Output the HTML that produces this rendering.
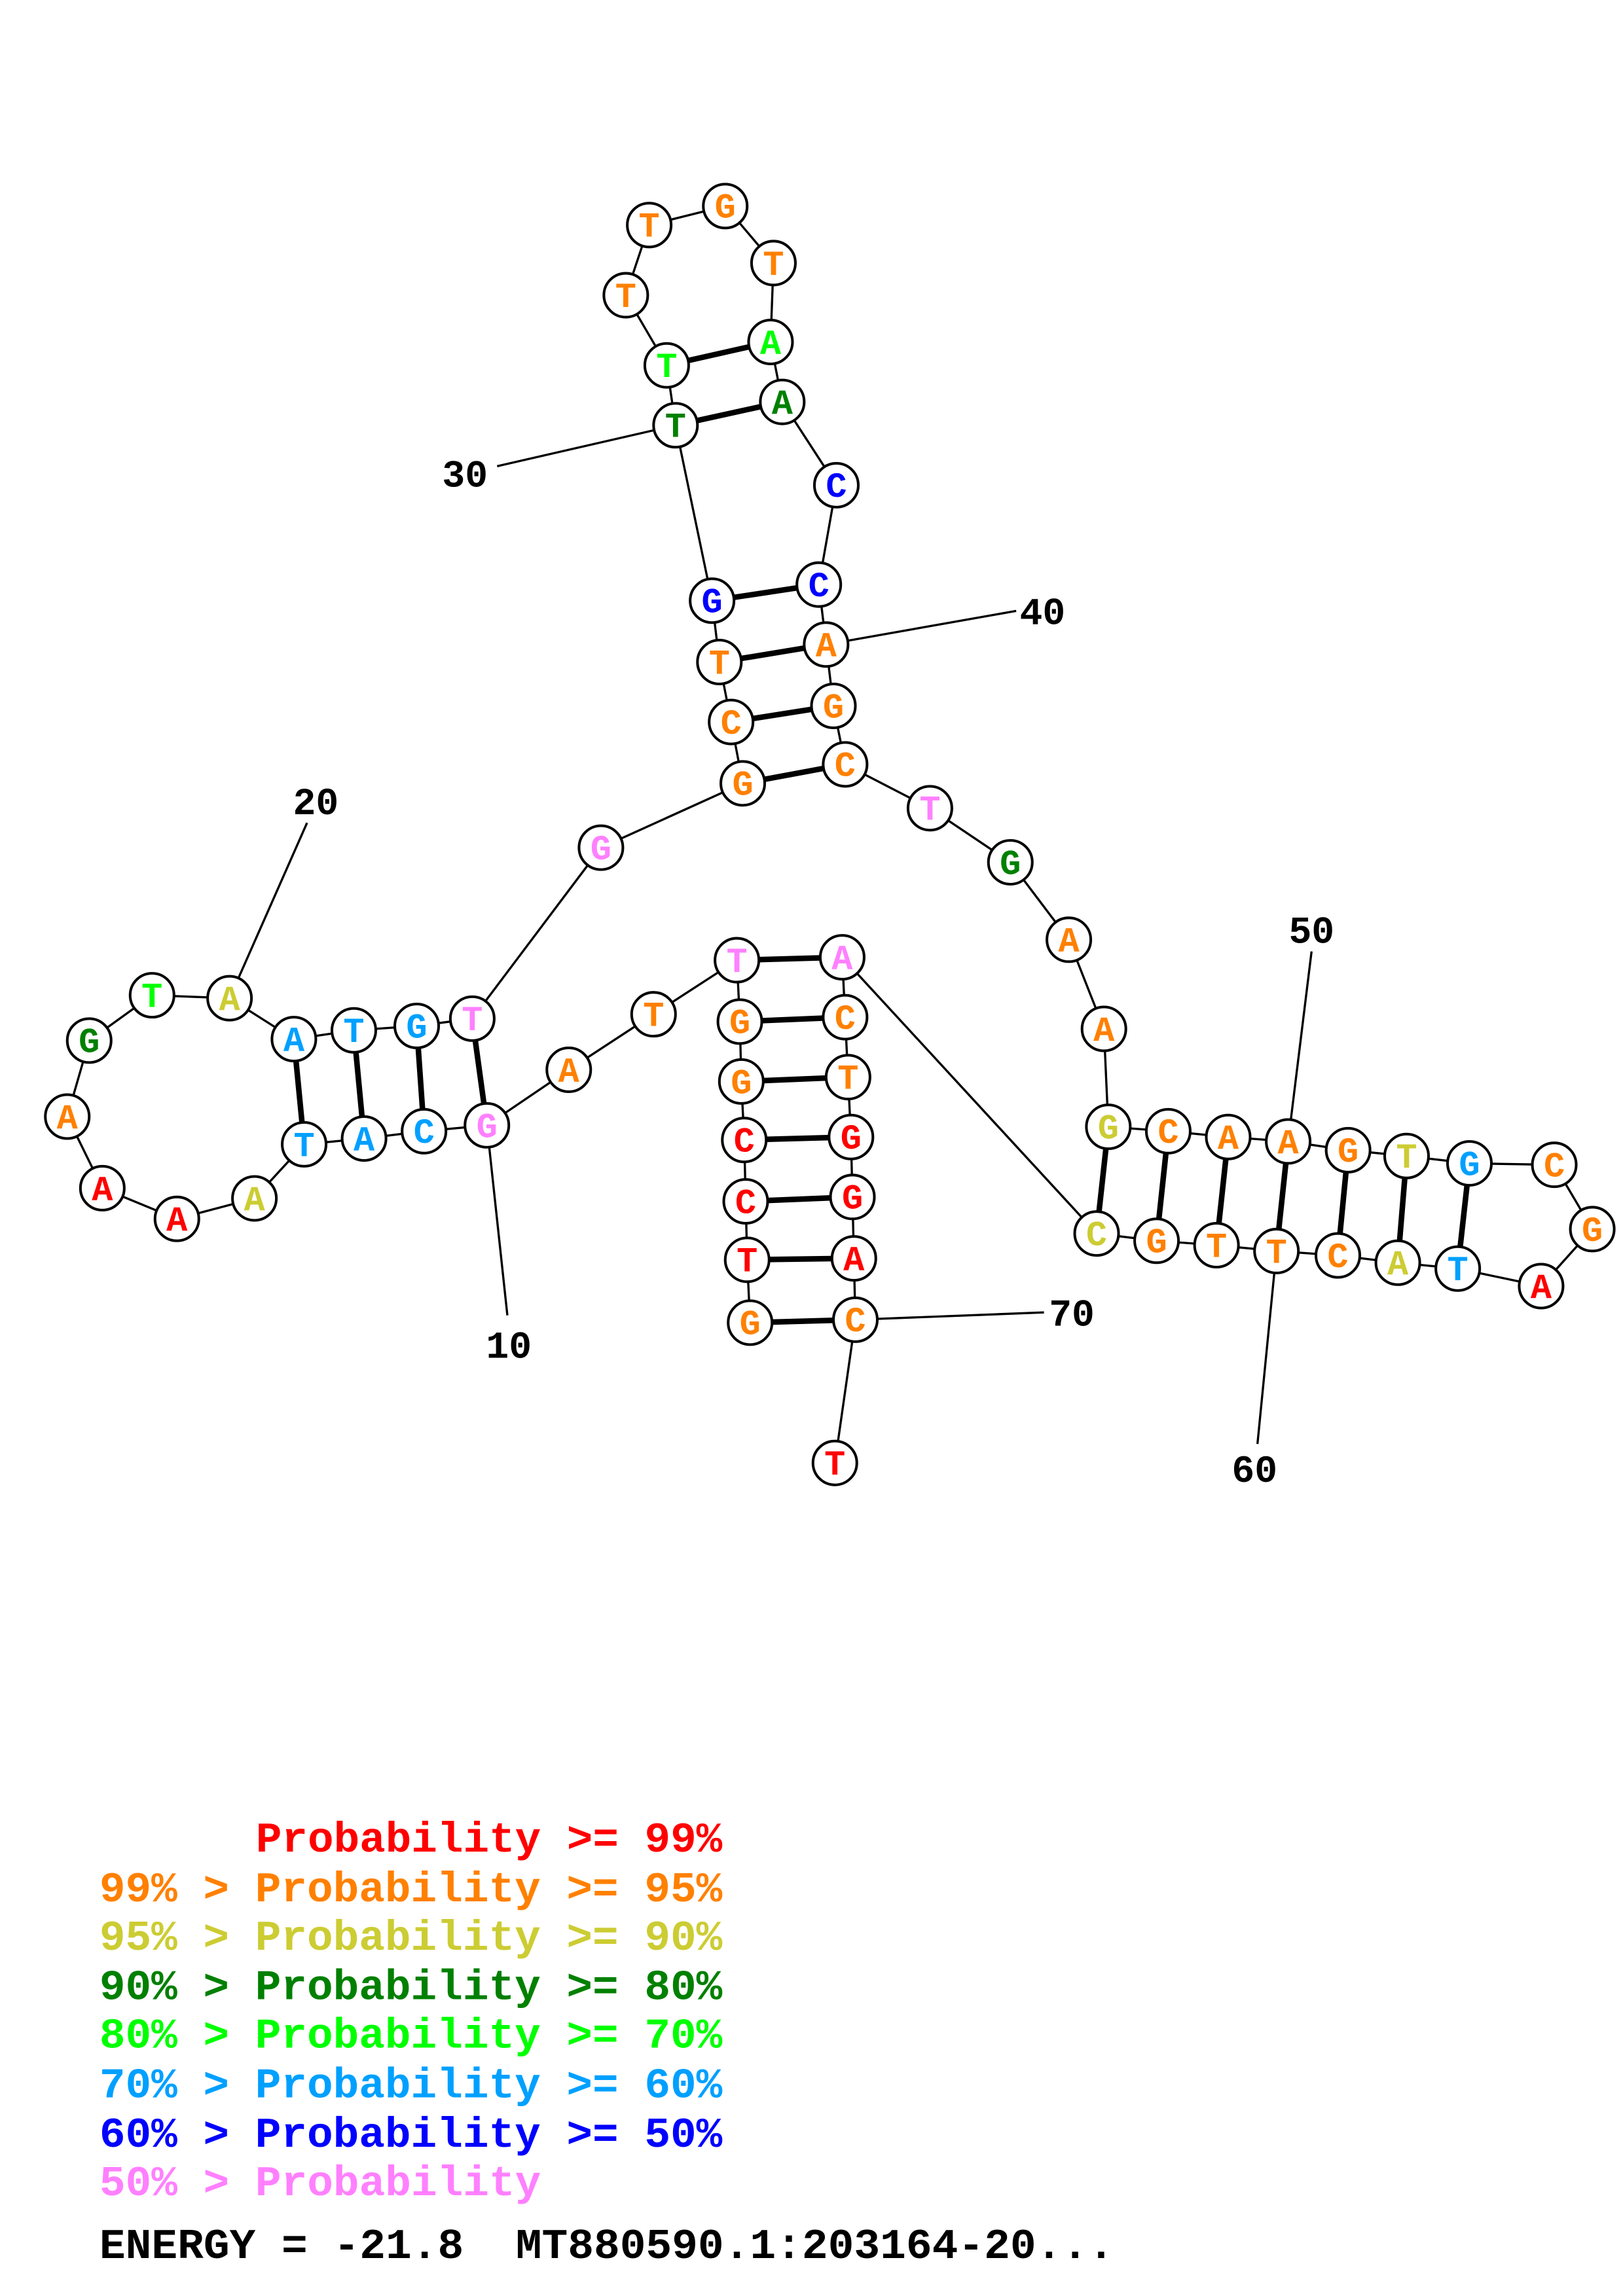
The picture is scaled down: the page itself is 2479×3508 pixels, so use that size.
<!DOCTYPE html>
<html><head><meta charset="utf-8"><style>html,body{margin:0;padding:0;background:#fff}svg{display:block}</style></head><body>
<svg width="2479" height="3508" viewBox="0 0 1110 1571" preserveAspectRatio="none" xmlns="http://www.w3.org/2000/svg">
<g stroke="#000" stroke-width="1.5" fill="none">
<polyline points="513,905 511,862 510,822 509,780 507,740 506,699 504,657 447,694 389,732 333,770 290,774 249,779 208,783 174,820 121,834 70,813 46,764 61,712 104,681 157,683 201,711 242,705 285,702 323,697 411,580 508,536 500,494 492,453 487,411 462,291 456,250 428,202 444,154 496,141 529,180 527,234 535,275 572,332 560,400 565,441 570,483 578,523 636,553 691,590 731,643 755,704 758,771 799,774 840,778 881,781 922,787 962,791 1005,796 1063,797 1089,841 1054,880 997,868 956,864 915,859 873,856 832,852 791,849 750,844 576,655 578,696 580,737 582,778 583,819 584,861 585,903 571,1001"/>
<line x1="333" y1="770" x2="347" y2="900"/>
<line x1="157" y1="683" x2="210" y2="563"/>
<line x1="462" y1="291" x2="340" y2="319"/>
<line x1="565" y1="441" x2="695" y2="418"/>
<line x1="881" y1="781" x2="897" y2="651"/>
<line x1="873" y1="856" x2="860" y2="988"/>
<line x1="585" y1="903" x2="714" y2="898"/>
</g>
<g stroke="#000" stroke-width="3.8">
<line x1="513" y1="905" x2="585" y2="903"/><line x1="511" y1="862" x2="584" y2="861"/><line x1="510" y1="822" x2="583" y2="819"/><line x1="509" y1="780" x2="582" y2="778"/><line x1="507" y1="740" x2="580" y2="737"/><line x1="506" y1="699" x2="578" y2="696"/><line x1="504" y1="657" x2="576" y2="655"/>
<line x1="333" y1="770" x2="323" y2="697"/><line x1="290" y1="774" x2="285" y2="702"/><line x1="249" y1="779" x2="242" y2="705"/><line x1="208" y1="783" x2="201" y2="711"/>
<line x1="508" y1="536" x2="578" y2="523"/><line x1="500" y1="494" x2="570" y2="483"/><line x1="492" y1="453" x2="565" y2="441"/><line x1="487" y1="411" x2="560" y2="400"/><line x1="462" y1="291" x2="535" y2="275"/><line x1="456" y1="250" x2="527" y2="234"/>
<line x1="758" y1="771" x2="750" y2="844"/><line x1="799" y1="774" x2="791" y2="849"/><line x1="840" y1="778" x2="832" y2="852"/><line x1="881" y1="781" x2="873" y2="856"/><line x1="922" y1="787" x2="915" y2="859"/><line x1="962" y1="791" x2="956" y2="864"/><line x1="1005" y1="796" x2="997" y2="868"/>
</g>
<g fill="#fff" stroke="#000" stroke-width="1.8">
<circle cx="513" cy="905" r="15"/><circle cx="511" cy="862" r="15"/><circle cx="510" cy="822" r="15"/><circle cx="509" cy="780" r="15"/><circle cx="507" cy="740" r="15"/><circle cx="506" cy="699" r="15"/><circle cx="504" cy="657" r="15"/><circle cx="447" cy="694" r="15"/><circle cx="389" cy="732" r="15"/><circle cx="333" cy="770" r="15"/><circle cx="290" cy="774" r="15"/><circle cx="249" cy="779" r="15"/><circle cx="208" cy="783" r="15"/><circle cx="174" cy="820" r="15"/><circle cx="121" cy="834" r="15"/><circle cx="70" cy="813" r="15"/><circle cx="46" cy="764" r="15"/><circle cx="61" cy="712" r="15"/><circle cx="104" cy="681" r="15"/><circle cx="157" cy="683" r="15"/><circle cx="201" cy="711" r="15"/><circle cx="242" cy="705" r="15"/><circle cx="285" cy="702" r="15"/><circle cx="323" cy="697" r="15"/><circle cx="411" cy="580" r="15"/><circle cx="508" cy="536" r="15"/><circle cx="500" cy="494" r="15"/><circle cx="492" cy="453" r="15"/><circle cx="487" cy="411" r="15"/><circle cx="462" cy="291" r="15"/><circle cx="456" cy="250" r="15"/><circle cx="428" cy="202" r="15"/><circle cx="444" cy="154" r="15"/><circle cx="496" cy="141" r="15"/><circle cx="529" cy="180" r="15"/><circle cx="527" cy="234" r="15"/><circle cx="535" cy="275" r="15"/><circle cx="572" cy="332" r="15"/><circle cx="560" cy="400" r="15"/><circle cx="565" cy="441" r="15"/><circle cx="570" cy="483" r="15"/><circle cx="578" cy="523" r="15"/><circle cx="636" cy="553" r="15"/><circle cx="691" cy="590" r="15"/><circle cx="731" cy="643" r="15"/><circle cx="755" cy="704" r="15"/><circle cx="758" cy="771" r="15"/><circle cx="799" cy="774" r="15"/><circle cx="840" cy="778" r="15"/><circle cx="881" cy="781" r="15"/><circle cx="922" cy="787" r="15"/><circle cx="962" cy="791" r="15"/><circle cx="1005" cy="796" r="15"/><circle cx="1063" cy="797" r="15"/><circle cx="1089" cy="841" r="15"/><circle cx="1054" cy="880" r="15"/><circle cx="997" cy="868" r="15"/><circle cx="956" cy="864" r="15"/><circle cx="915" cy="859" r="15"/><circle cx="873" cy="856" r="15"/><circle cx="832" cy="852" r="15"/><circle cx="791" cy="849" r="15"/><circle cx="750" cy="844" r="15"/><circle cx="576" cy="655" r="15"/><circle cx="578" cy="696" r="15"/><circle cx="580" cy="737" r="15"/><circle cx="582" cy="778" r="15"/><circle cx="583" cy="819" r="15"/><circle cx="584" cy="861" r="15"/><circle cx="585" cy="903" r="15"/><circle cx="571" cy="1001" r="15"/>
</g>
<g font-family="Liberation Mono, monospace" font-weight="bold" font-size="24" text-anchor="middle">
<text x="513" y="913" fill="#ff8000">G</text><text x="511" y="870" fill="#ff0000">T</text><text x="510" y="830" fill="#ff0000">C</text><text x="509" y="788" fill="#ff0000">C</text><text x="507" y="748" fill="#ff8000">G</text><text x="506" y="707" fill="#ff8000">G</text><text x="504" y="665" fill="#ff80ff">T</text><text x="447" y="702" fill="#ff8000">T</text><text x="389" y="740" fill="#ff8000">A</text><text x="333" y="778" fill="#ff80ff">G</text><text x="290" y="782" fill="#00a0ff">C</text><text x="249" y="787" fill="#00a0ff">A</text><text x="208" y="791" fill="#00a0ff">T</text><text x="174" y="828" fill="#cccc33">A</text><text x="121" y="842" fill="#ff0000">A</text><text x="70" y="821" fill="#ff0000">A</text><text x="46" y="772" fill="#ff8000">A</text><text x="61" y="720" fill="#008000">G</text><text x="104" y="689" fill="#00ff00">T</text><text x="157" y="691" fill="#cccc33">A</text><text x="201" y="719" fill="#00a0ff">A</text><text x="242" y="713" fill="#00a0ff">T</text><text x="285" y="710" fill="#00a0ff">G</text><text x="323" y="705" fill="#ff80ff">T</text><text x="411" y="588" fill="#ff80ff">G</text><text x="508" y="544" fill="#ff8000">G</text><text x="500" y="502" fill="#ff8000">C</text><text x="492" y="461" fill="#ff8000">T</text><text x="487" y="419" fill="#0000ff">G</text><text x="462" y="299" fill="#008000">T</text><text x="456" y="258" fill="#00ff00">T</text><text x="428" y="210" fill="#ff8000">T</text><text x="444" y="162" fill="#ff8000">T</text><text x="496" y="149" fill="#ff8000">G</text><text x="529" y="188" fill="#ff8000">T</text><text x="527" y="242" fill="#00ff00">A</text><text x="535" y="283" fill="#008000">A</text><text x="572" y="340" fill="#0000ff">C</text><text x="560" y="408" fill="#0000ff">C</text><text x="565" y="449" fill="#ff8000">A</text><text x="570" y="491" fill="#ff8000">G</text><text x="578" y="531" fill="#ff8000">C</text><text x="636" y="561" fill="#ff80ff">T</text><text x="691" y="598" fill="#008000">G</text><text x="731" y="651" fill="#ff8000">A</text><text x="755" y="712" fill="#ff8000">A</text><text x="758" y="779" fill="#cccc33">G</text><text x="799" y="782" fill="#ff8000">C</text><text x="840" y="786" fill="#ff8000">A</text><text x="881" y="789" fill="#ff8000">A</text><text x="922" y="795" fill="#ff8000">G</text><text x="962" y="799" fill="#cccc33">T</text><text x="1005" y="804" fill="#00a0ff">G</text><text x="1063" y="805" fill="#ff8000">C</text><text x="1089" y="849" fill="#ff8000">G</text><text x="1054" y="888" fill="#ff0000">A</text><text x="997" y="876" fill="#00a0ff">T</text><text x="956" y="872" fill="#cccc33">A</text><text x="915" y="867" fill="#ff8000">C</text><text x="873" y="864" fill="#ff8000">T</text><text x="832" y="860" fill="#ff8000">T</text><text x="791" y="857" fill="#ff8000">G</text><text x="750" y="852" fill="#cccc33">C</text><text x="576" y="663" fill="#ff80ff">A</text><text x="578" y="704" fill="#ff8000">C</text><text x="580" y="745" fill="#ff8000">T</text><text x="582" y="786" fill="#ff0000">G</text><text x="583" y="827" fill="#ff0000">G</text><text x="584" y="869" fill="#ff0000">A</text><text x="585" y="911" fill="#ff8000">C</text><text x="571" y="1009" fill="#ff0000">T</text>
</g>
<g font-family="Liberation Mono, monospace" font-weight="bold" font-size="26" text-anchor="middle" fill="#000">
<text x="348" y="929">10</text><text x="216" y="557">20</text><text x="318" y="333">30</text><text x="713" y="427">40</text><text x="897" y="645">50</text><text x="858" y="1014">60</text><text x="733" y="907">70</text>
</g>
<g font-family="Liberation Mono, monospace" font-weight="bold" font-size="29">
<text x="175" y="1267" fill="#ff0000" textLength="319" lengthAdjust="spacingAndGlyphs">Probability &gt;= 99%</text>
<text x="68" y="1301" fill="#ff8000" textLength="426" lengthAdjust="spacingAndGlyphs">99% &gt; Probability &gt;= 95%</text>
<text x="68" y="1334" fill="#cccc33" textLength="426" lengthAdjust="spacingAndGlyphs">95% &gt; Probability &gt;= 90%</text>
<text x="68" y="1368" fill="#008000" textLength="426" lengthAdjust="spacingAndGlyphs">90% &gt; Probability &gt;= 80%</text>
<text x="68" y="1401" fill="#00ff00" textLength="426" lengthAdjust="spacingAndGlyphs">80% &gt; Probability &gt;= 70%</text>
<text x="68" y="1435" fill="#00a0ff" textLength="426" lengthAdjust="spacingAndGlyphs">70% &gt; Probability &gt;= 60%</text>
<text x="68" y="1469" fill="#0000ff" textLength="426" lengthAdjust="spacingAndGlyphs">60% &gt; Probability &gt;= 50%</text>
<text x="68" y="1502" fill="#ff80ff" textLength="302" lengthAdjust="spacingAndGlyphs">50% &gt; Probability</text>
<text x="68" y="1545" fill="#000" textLength="694" lengthAdjust="spacingAndGlyphs">ENERGY = -21.8 &#160;MT880590.1:203164-20...</text>
</g>
</svg>
</body></html>
